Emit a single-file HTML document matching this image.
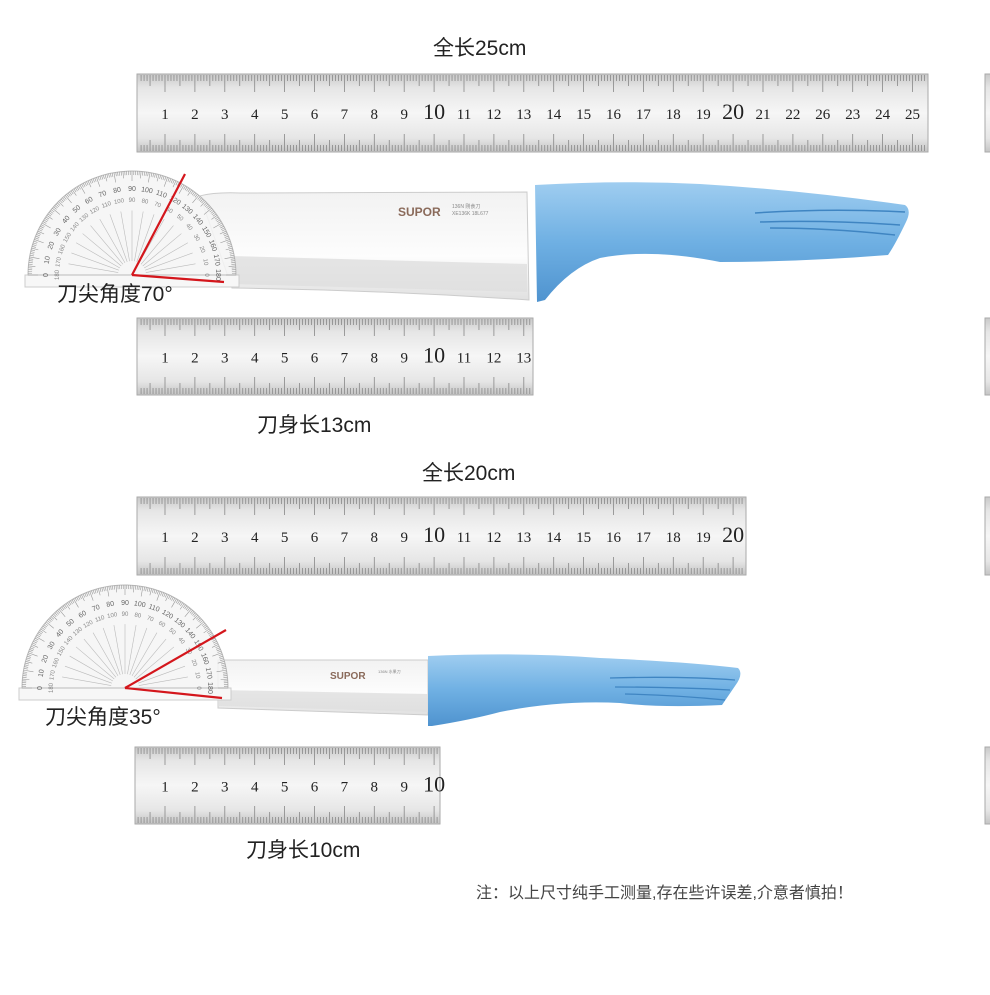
<!DOCTYPE html>
<html><head><meta charset="utf-8"><style>
html,body{margin:0;padding:0;background:#fff;}
body{width:990px;height:995px;overflow:hidden;position:relative;font-family:"Liberation Sans","Noto Sans CJK SC",sans-serif;}
svg{position:absolute;left:0;top:0;}
</style></head><body>
<svg id="s" width="990" height="995" viewBox="0 0 990 995" xmlns="http://www.w3.org/2000/svg">
<defs>
<linearGradient id="rg" x1="0" y1="0" x2="0" y2="1">
<stop offset="0" stop-color="#c9c9c9"/><stop offset="0.18" stop-color="#e6e6e6"/><stop offset="0.5" stop-color="#f6f6f6"/><stop offset="0.82" stop-color="#e6e6e6"/><stop offset="1" stop-color="#c4c4c4"/>
</linearGradient>
<linearGradient id="bl" x1="0" y1="0" x2="0" y2="1">
<stop offset="0" stop-color="#f2f2f2"/><stop offset="0.6" stop-color="#fdfdfd"/><stop offset="1" stop-color="#e0e0e0"/>
</linearGradient>
<linearGradient id="hd" x1="0" y1="0" x2="0" y2="1">
<stop offset="0" stop-color="#9fcdf0"/><stop offset="0.5" stop-color="#6fb0e3"/><stop offset="1" stop-color="#4f93cf"/>
</linearGradient>
</defs>
<g id="g"></g>
<g font-family="Liberation Sans,Noto Sans CJK SC,sans-serif" fill="#222">
<text x="433" y="55" font-size="21">全长25cm</text>
<text x="257" y="432" font-size="21">刀身长13cm</text>
<text x="422" y="480" font-size="21">全长20cm</text>
<text x="246" y="857" font-size="21">刀身长10cm</text>
<text x="476" y="898" font-size="16" fill="#444">注：以上尺寸纯手工测量,存在些许误差,介意者慎拍！</text>
</g>
</svg>
<script>
var g=document.getElementById('g'),h='';
function ruler(x,y,w,ht,labels,start){
 h+='<rect x="'+x+'" y="'+y+'" width="'+w+'" height="'+ht+'" fill="url(#rg)" stroke="#aaa" stroke-width="1"/>';
 var sp=29.9;
 for(var i=0;i*sp/10< w-start+30;i++){
  var tx=x+start-sp+i*sp/10; if(tx<x+2||tx>x+w-1) continue;
  var L=(i%10==0)?18:(i%5==0?12:7);
  h+='<line x1="'+tx+'" y1="'+(y+1)+'" x2="'+tx+'" y2="'+(y+L)+'" stroke="#888" stroke-width="0.8"/>';
  h+='<line x1="'+tx+'" y1="'+(y+ht-1)+'" x2="'+tx+'" y2="'+(y+ht-L)+'" stroke="#888" stroke-width="0.8"/>';
 }
 for(var k=0;k<labels.length;k++){
  var lx=x+start+k*sp, big=(labels[k]=='10'||labels[k]=='20');
  h+='<text x="'+lx+'" y="'+(y+ht/2+6)+'" font-family="Liberation Serif,serif" font-size="'+(big?22:15)+'" text-anchor="middle" fill="#222">'+labels[k]+'</text>';
 }
}
function seq(n){var a=[];for(var i=1;i<=n;i++)a.push(''+i);return a;}
ruler(137,74,791,78,['1','2','3','4','5','6','7','8','9','10','11','12','13','14','15','16','17','18','19','20','21','22','26','23','24','25'],28);
ruler(137,318,396,77,seq(13),28);
ruler(137,497,609,78,seq(20),28);
ruler(135,747,305,77,seq(10),30);
[[74,78],[318,77],[497,78],[747,77]].forEach(function(r){h+='<rect x="985" y="'+r[0]+'" width="8" height="'+r[1]+'" fill="url(#rg)" stroke="#aaa"/>';});
// knife 1
h+='<path d="M200,196 Q215,192 240,193 L527,192 L529,300 Q380,290 232,288 Z" fill="url(#bl)" stroke="#ccc"/>';
h+='<path d="M230,256 L527,264 L527,292 L232,284 Z" fill="#dedede" opacity="0.8"/>';
h+='<text x="398" y="216" font-size="12" font-weight="bold" fill="#8a6a5a">SUPOR</text>';
h+='<text x="452" y="208" font-size="5" fill="#888">136N  刚食刀</text><text x="452" y="215" font-size="5" fill="#888">XE136K 18L677</text>';
h+='<path d="M535,185 Q620,180 700,184 Q800,190 905,205 Q912,210 906,222 Q895,245 888,255 Q800,262 720,262 Q650,248 600,258 Q570,268 545,300 L537,302 Z" fill="url(#hd)"/>';
h+='<path d="M755,213 Q830,208 905,212 M760,222 Q830,220 900,225 M770,228 Q830,228 895,235" stroke="#3f85c2" stroke-width="1.5" fill="none"/>';
// knife 2
h+='<path d="M218,660 L428,660 L428,715 L218,708 Z" fill="url(#bl)" stroke="#ccc"/>';
h+='<path d="M218,690 L428,694 L428,712 L218,706 Z" fill="#dedede" opacity="0.8"/>';
h+='<text x="330" y="679" font-size="10" font-weight="bold" fill="#8a6a5a">SUPOR</text>';
h+='<text x="378" y="673" font-size="4" fill="#888">136N  水果刀</text>';
h+='<path d="M428,656 Q520,652 600,658 Q690,662 738,668 Q744,674 735,686 L722,705 Q660,708 620,703 Q560,700 500,712 Q470,720 432,726 L428,726 Z" fill="url(#hd)"/>';
h+='<path d="M610,678 Q680,676 735,680 M615,687 Q675,687 730,690 M625,694 Q675,695 725,700" stroke="#3f85c2" stroke-width="1.3" fill="none"/>';
function prot(cx,cy,r,a1,a2){
 h+='<rect x="'+(cx-r-3)+'" y="'+cy+'" width="'+(2*r+6)+'" height="12" fill="#f7f7f7" stroke="#ccc"/>';
 h+='<path d="M'+(cx-r)+','+cy+' A'+r+','+r+' 0 0 1 '+(cx+r)+','+cy+' Z" fill="#f4f4f4" fill-opacity="0.85" stroke="#bbb"/>';
 for(var d=0;d<=180;d++){var a=d*Math.PI/180,L=d%10==0?10:(d%5==0?7:4);
  h+='<line x1="'+(cx+r*Math.cos(a))+'" y1="'+(cy-r*Math.sin(a))+'" x2="'+(cx+(r-L)*Math.cos(a))+'" y2="'+(cy-(r-L)*Math.sin(a))+'" stroke="#999" stroke-width="0.6"/>';}
 for(var d=0;d<=180;d+=10){var a=d*Math.PI/180;
  h+='<line x1="'+(cx+14*Math.cos(a))+'" y1="'+(cy-14*Math.sin(a))+'" x2="'+(cx+(r*0.62)*Math.cos(a))+'" y2="'+(cy-(r*0.62)*Math.sin(a))+'" stroke="#bbb" stroke-width="0.6"/>';
  var tr=r-17;h+='<text x="'+(cx-tr*Math.cos(a))+'" y="'+(cy-tr*Math.sin(a)+3)+'" font-size="7" fill="#666" text-anchor="middle" transform="rotate('+(d-90)+' '+(cx-tr*Math.cos(a))+' '+(cy-tr*Math.sin(a))+')">'+d+'</text>';
  var tr2=r-28;h+='<text x="'+(cx+tr2*Math.cos(a))+'" y="'+(cy-tr2*Math.sin(a)+3)+'" font-size="6" fill="#888" text-anchor="middle" transform="rotate('+(90-d)+' '+(cx+tr2*Math.cos(a))+' '+(cy-tr2*Math.sin(a))+')">'+d+'</text>';}
 h+='<line x1="'+cx+'" y1="'+cy+'" x2="'+a1[0]+'" y2="'+a1[1]+'" stroke="#d4161c" stroke-width="2.2"/>';
 h+='<line x1="'+cx+'" y1="'+cy+'" x2="'+a2[0]+'" y2="'+a2[1]+'" stroke="#d4161c" stroke-width="2.2"/>';
}
prot(132,275,104,[185,174],[224,282]);
prot(125,688,103,[226,630],[222,698]);
h+='<text x="57" y="301" font-size="21" fill="#222">刀尖角度70°</text>';
h+='<text x="45" y="724" font-size="21" fill="#222">刀尖角度35°</text>';
g.innerHTML=h;
</script>
</body></html>
